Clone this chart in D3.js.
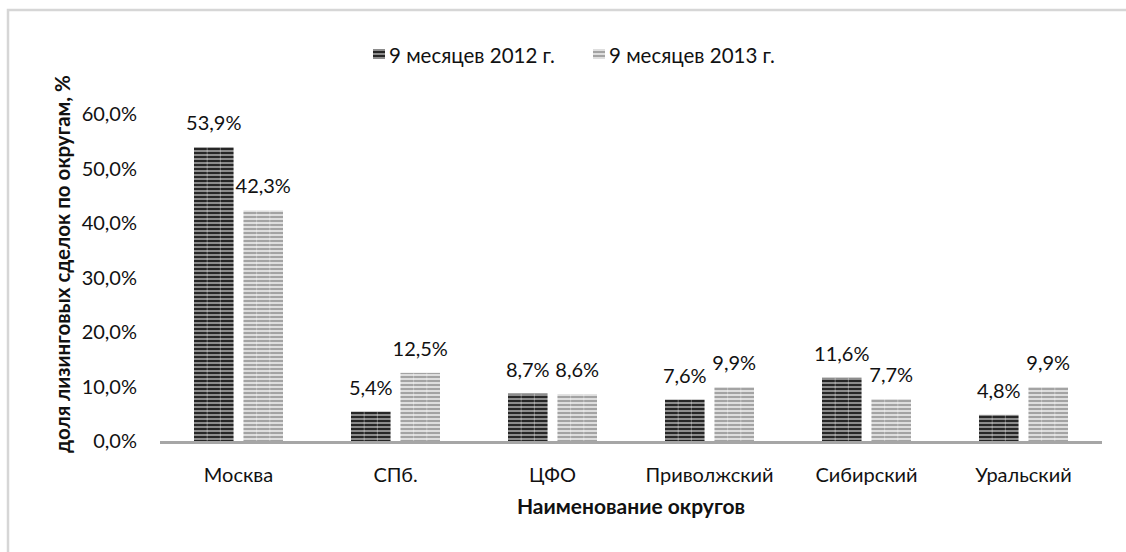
<!DOCTYPE html>
<html>
<head>
<meta charset="utf-8">
<script src="https://cdn.jsdelivr.net/npm/d3@7"></script>
<style>
  body { margin: 0; background: #fff; }
  text { font-family: Lato, "Noto Sans", sans-serif; fill: #111; }
</style>
</head>
<body>
<div id="chart"></div>
<script>
// data
var okruga = ["Москва", "СПб.", "ЦФО", "Приволжский", "Сибирский", "Уральский"];
var series = ["9 месяцев 2012 г.", "9 месяцев 2013 г."];
var v2012 = [53.9, 5.4, 8.7, 7.6, 11.6, 4.8];
var v2013 = [42.3, 12.5, 8.6, 9.9, 7.7, 9.9];
var yTicks = [0, 10, 20, 30, 40, 50, 60];

var W = 1126, H = 552;
var fmt = function (v) { return v.toFixed(1).replace(".", ",") + "%"; };

var svg = d3.select("#chart").append("svg")
    .attr("width", W).attr("height", H);

// stripe patterns, one per series
var defs = svg.append("defs");
var pats = [
    {id: "p2012", bg: "#8c8c8c", fg: "#262626"},
    {id: "p2013", bg: "#dedede", fg: "#a3a3a3"}
];
pats.forEach(function (p) {
    var pt = defs.append("pattern")
        .attr("id", p.id)
        .attr("patternUnits", "userSpaceOnUse")
        .attr("width", 8).attr("height", 4);
    pt.append("rect").attr("width", 8).attr("height", 4).attr("fill", p.bg);
    pt.append("rect").attr("width", 8).attr("height", 2).attr("fill", p.fg);
});

// outer frame
svg.append("rect")
    .attr("x", 8).attr("y", 10)
    .attr("width", W + 20).attr("height", H + 20)
    .attr("fill", "none")
    .attr("stroke", "#d6d6d6")
    .attr("stroke-width", 2.5);

var x = d3.scaleBand().domain(okruga).range([160, 1102]);
var x1 = d3.scaleBand().domain(series).range([34, 123]).paddingInner(0.2);
var y = d3.scaleLinear().domain([0, 60]).range([441, 114]);

// y tick labels
svg.append("g")
    .selectAll("text")
    .data(yTicks)
    .enter().append("text")
    .attr("x", 137)
    .attr("y", function (d) { return y(d); })
    .attr("dy", "0.35em")
    .attr("text-anchor", "end")
    .style("font-size", "20px")
    .text(function (d) { return fmt(d); });

var rows = [];
okruga.forEach(function (o, i) {
    rows.push({ok: o, s: series[0], v: v2012[i], pat: "p2012"});
    rows.push({ok: o, s: series[1], v: v2013[i], pat: "p2013"});
});

var bars = svg.append("g").selectAll("g")
    .data(rows)
    .enter().append("g");

bars.append("rect")
    .attr("x", function (d) { return x(d.ok) + x1(d.s); })
    .attr("y", function (d) { return y(d.v); })
    .attr("width", x1.bandwidth())
    .attr("height", function (d) { return y(0) - y(d.v); })
    .attr("fill", function (d) { return "url(#" + d.pat + ")"; });

// faint vertical seams inside bars
[1 / 3, 2 / 3].forEach(function (f) {
    bars.append("line")
        .attr("x1", function (d) { return x(d.ok) + x1(d.s) + x1.bandwidth() * f; })
        .attr("x2", function (d) { return x(d.ok) + x1(d.s) + x1.bandwidth() * f; })
        .attr("y1", function (d) { return y(d.v); })
        .attr("y2", y(0))
        .attr("stroke", "#ffffff")
        .attr("stroke-opacity", 0.35)
        .attr("stroke-width", 1);
});

// value labels
bars.append("text")
    .attr("x", function (d) { return x(d.ok) + x1(d.s) + x1.bandwidth() / 2; })
    .attr("y", function (d) { return y(d.v) - 24; })
    .attr("dy", "0.35em")
    .attr("text-anchor", "middle")
    .style("font-size", "20px")
    .text(function (d) { return fmt(d.v); });

// x axis line
svg.append("line")
    .attr("x1", 160).attr("x2", 1102)
    .attr("y1", 442.5).attr("y2", 442.5)
    .attr("stroke", "#a6a6a6")
    .attr("stroke-width", 3);

// category labels
svg.append("g").selectAll("text")
    .data(okruga)
    .enter().append("text")
    .attr("x", function (d) { return x(d) + x.bandwidth() / 2; })
    .attr("y", 475)
    .attr("dy", "0.35em")
    .attr("text-anchor", "middle")
    .style("font-size", "20px")
    .text(function (d) { return d; });

// axis titles
svg.append("text")
    .attr("x", 631).attr("y", 507)
    .attr("dy", "0.35em")
    .attr("text-anchor", "middle")
    .style("font-size", "21px")
    .style("font-weight", "bold")
    .text("Наименование округов");

svg.append("text")
    .attr("transform", "translate(63,264) rotate(-90)")
    .attr("dy", "0.35em")
    .attr("text-anchor", "middle")
    .style("font-size", "20.5px")
    .style("font-weight", "bold")
    .text("доля лизинговых сделок по округам, %");

// legend
var legX = [373, 593];
var leg = svg.append("g").selectAll("g")
    .data(series)
    .enter().append("g")
    .attr("transform", function (d, i) { return "translate(" + legX[i] + ",55)"; });
leg.append("rect")
    .attr("x", 0).attr("y", -6)
    .attr("width", 12).attr("height", 10)
    .attr("fill", function (d, i) { return "url(#" + pats[i].id + ")"; });
leg.append("text")
    .attr("x", 16).attr("y", 1)
    .attr("dy", "0.35em")
    .style("font-size", "20.5px")
    .text(function (d) { return d; });
</script>
</body>
</html>
